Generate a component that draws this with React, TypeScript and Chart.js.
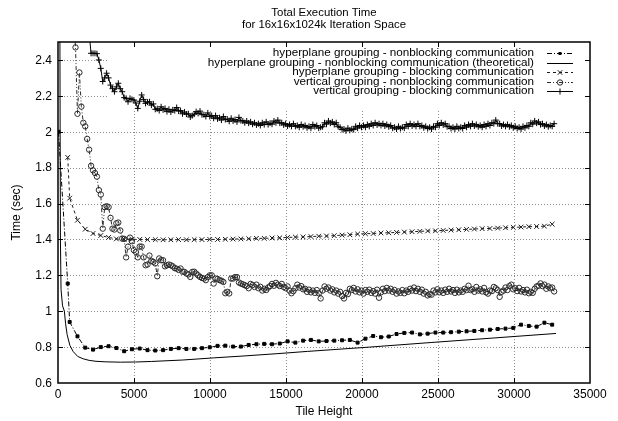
import { useEffect, useRef } from "react";
import { Chart, registerables } from "chart.js";

Chart.register(...registerables);

// ---------- text ----------
const TITLE_LINES = ["Total Execution Time", "for 16x16x1024k Iteration Space"];
const X_LABEL = "Tile Height";
const Y_LABEL = "Time (sec)";
const SERIES_NAMES = [
  "hyperplane grouping - nonblocking communication",
  "hyperplane grouping - nonblocking communication (theoretical)",
  "hyperplane grouping - blocking communication",
  "vertical grouping - nonblocking communication",
  "vertical grouping - blocking communication",
];

// ---------- ticks ----------
const X_TICKS = [0, 5000, 10000, 15000, 20000, 25000, 30000, 35000];
const X_TICK_LABELS = ["0", "5000", "10000", "15000", "20000", "25000", "30000", "35000"];
const Y_TICKS = [0.6, 0.8, 1.0, 1.2, 1.4, 1.6, 1.8, 2.0, 2.2, 2.4];
const Y_TICK_LABELS = ["0.6", "0.8", "1", "1.2", "1.4", "1.6", "1.8", "2", "2.2", "2.4"];

// ---------- data ----------
// tile heights sampled every 512 (hyperplane runs)
const TILE_512 = [
  640, 768, 1280, 1792, 2304, 2816, 3328, 3840, 4352, 4864,
  5376, 5888, 6400, 6912, 7424, 7936, 8448, 8960, 9472, 9984,
  10496, 11008, 11520, 12032, 12544, 13056, 13568, 14080, 14592, 15104,
  15616, 16128, 16640, 17152, 17664, 18176, 18688, 19200, 19712, 20224,
  20736, 21248, 21760, 22272, 22784, 23296, 23808, 24320, 24832, 25344,
  25856, 26368, 26880, 27392, 27904, 28416, 28928, 29440, 29952, 30464,
  30976, 31488, 32000, 32512,
];

// hyperplane grouping - nonblocking (first point at a very small tile height)
const HP_NB_X = [32, ...TILE_512];
const HP_NB_Y = [
  2.0,
  1.154, 0.94, 0.86, 0.797, 0.786, 0.80, 0.805, 0.795, 0.777,
  0.788, 0.792, 0.783, 0.781, 0.783, 0.790, 0.794, 0.790, 0.790, 0.794,
  0.799, 0.807, 0.808, 0.803, 0.803, 0.812, 0.816, 0.818, 0.816, 0.820,
  0.832, 0.825, 0.836, 0.840, 0.832, 0.834, 0.836, 0.838, 0.840, 0.825,
  0.847, 0.862, 0.855, 0.859, 0.873, 0.879, 0.881, 0.871, 0.875, 0.881,
  0.881, 0.883, 0.886, 0.888, 0.890, 0.894, 0.897, 0.901, 0.903, 0.907,
  0.925, 0.918, 0.914, 0.936, 0.925,
];

// hyperplane grouping - nonblocking (theoretical)
const THEO_X = [
  120, 160, 200, 300, 420, 500, 600, 780, 1000, 1300,
  1650, 2050, 2500, 3100, 4100, 5100, 6150, 8200, 10250, 12300,
  14350, 16400, 20500, 24600, 28700, 32768,
];
const THEO_Y = [
  2.7, 1.4, 1.12, 1.03, 1.0, 0.93, 0.87, 0.81, 0.775, 0.748,
  0.735, 0.726, 0.721, 0.718, 0.716, 0.717, 0.72, 0.728, 0.74, 0.751,
  0.763, 0.776, 0.80, 0.826, 0.851, 0.876,
];

// hyperplane grouping - blocking
const HP_B_X = TILE_512;
const HP_B_Y = [
  1.857, 1.63, 1.507, 1.457, 1.433, 1.422, 1.411, 1.403, 1.401, 1.401,
  1.400, 1.399, 1.399, 1.398, 1.398, 1.399, 1.398, 1.399, 1.399, 1.400,
  1.400, 1.401, 1.402, 1.403, 1.404, 1.406, 1.406, 1.408, 1.409, 1.411,
  1.413, 1.414, 1.416, 1.418, 1.419, 1.421, 1.424, 1.426, 1.430, 1.432,
  1.433, 1.436, 1.437, 1.439, 1.441, 1.443, 1.445, 1.447, 1.448, 1.450,
  1.452, 1.454, 1.456, 1.458, 1.460, 1.461, 1.463, 1.465, 1.467, 1.469,
  1.471, 1.472, 1.474, 1.485,
];

// tile heights sampled every 128 (vertical runs)
const TILE_128 = [
  896, 1024, 1152, 1280, 1408, 1536, 1664, 1792, 1920, 2048,
  2176, 2304, 2432, 2560, 2688, 2816, 2944, 3072, 3200, 3328,
  3456, 3584, 3712, 3840, 3968, 4096, 4224, 4352, 4480, 4608,
  4736, 4864, 4992, 5120, 5248, 5376, 5504, 5632, 5760, 5888,
  6016, 6144, 6272, 6400, 6528, 6656, 6784, 6912, 7040, 7168,
  7296, 7424, 7552, 7680, 7808, 7936, 8064, 8192, 8320, 8448,
  8576, 8704, 8832, 8960, 9088, 9216, 9344, 9472, 9600, 9728,
  9856, 9984, 10112, 10240, 10368, 10496, 10624, 10752, 10880, 11008,
  11136, 11264, 11392, 11520, 11648, 11776, 11904, 12032, 12160, 12288,
  12416, 12544, 12672, 12800, 12928, 13056, 13184, 13312, 13440, 13568,
  13696, 13824, 13952, 14080, 14208, 14336, 14464, 14592, 14720, 14848,
  14976, 15104, 15232, 15360, 15488, 15616, 15744, 15872, 16000, 16128,
  16256, 16384, 16512, 16640, 16768, 16896, 17024, 17152, 17280, 17408,
  17536, 17664, 17792, 17920, 18048, 18176, 18304, 18432, 18560, 18688,
  18816, 18944, 19072, 19200, 19328, 19456, 19584, 19712, 19840, 19968,
  20096, 20224, 20352, 20480, 20608, 20736, 20864, 20992, 21120, 21248,
  21376, 21504, 21632, 21760, 21888, 22016, 22144, 22272, 22400, 22528,
  22656, 22784, 22912, 23040, 23168, 23296, 23424, 23552, 23680, 23808,
  23936, 24064, 24192, 24320, 24448, 24576, 24704, 24832, 24960, 25088,
  25216, 25344, 25472, 25600, 25728, 25856, 25984, 26112, 26240, 26368,
  26496, 26624, 26752, 26880, 27008, 27136, 27264, 27392, 27520, 27648,
  27776, 27904, 28032, 28160, 28288, 28416, 28544, 28672, 28800, 28928,
  29056, 29184, 29312, 29440, 29568, 29696, 29824, 29952, 30080, 30208,
  30336, 30464, 30592, 30720, 30848, 30976, 31104, 31232, 31360, 31488,
  31616, 31744, 31872, 32000, 32128, 32256, 32384, 32512, 32640,
];

// vertical grouping - nonblocking
const VG_NB_X = TILE_128;
const VG_NB_Y = [
  2.9, 2.65, 2.47, 2.10, 2.33, 2.14, 2.05, 2.03, 1.96, 1.90,
  1.81, 1.785, 1.77, 1.75, 1.675, 1.65, 1.46, 1.58, 1.585, 1.58,
  1.52, 1.46, 1.455, 1.49, 1.494, 1.45, 1.405, 1.403, 1.30, 1.36,
  1.41, 1.39, 1.34, 1.33, 1.30, 1.36, 1.36, 1.30, 1.256, 1.26,
  1.31, 1.28, 1.275, 1.266, 1.195, 1.294, 1.284, 1.284, 1.25, 1.256,
  1.26, 1.256, 1.25, 1.24, 1.237, 1.23, 1.238, 1.22, 1.219, 1.21,
  1.205, 1.191, 1.219, 1.22, 1.21, 1.20, 1.191, 1.185, 1.182, 1.173,
  1.19, 1.20, 1.20, 1.154, 1.182, 1.18, 1.173, 1.17, 1.163, 1.10,
  1.108, 1.099, 1.182, 1.182, 1.19, 1.19, 1.16, 1.154, 1.15, 1.145,
  1.14, 1.128, 1.152, 1.146, 1.135, 1.148, 1.128, 1.136, 1.115, 1.125,
  1.118, 1.132, 1.14, 1.152, 1.142, 1.158, 1.148, 1.14, 1.152, 1.135,
  1.128, 1.138, 1.115, 1.10, 1.112, 1.128, 1.148, 1.132, 1.14, 1.122,
  1.125, 1.108, 1.12, 1.105, 1.115, 1.102, 1.118, 1.10, 1.071, 1.115,
  1.138, 1.125, 1.132, 1.115, 1.122, 1.105, 1.115, 1.098, 1.108, 1.085,
  1.071, 1.102, 1.095, 1.125, 1.118, 1.13, 1.11, 1.122, 1.105, 1.115,
  1.098, 1.118, 1.108, 1.12, 1.102, 1.112, 1.098, 1.12, 1.075, 1.105,
  1.125, 1.112, 1.13, 1.115, 1.125, 1.108, 1.118, 1.098, 1.11, 1.102,
  1.118, 1.10, 1.115, 1.108, 1.125, 1.115, 1.132, 1.112, 1.125, 1.108,
  1.12, 1.098, 1.108, 1.088, 1.095, 1.092, 1.115, 1.105, 1.122, 1.105,
  1.115, 1.102, 1.12, 1.108, 1.125, 1.11, 1.118, 1.102, 1.12, 1.105,
  1.115, 1.108, 1.125, 1.118, 1.142, 1.118, 1.122, 1.108, 1.135, 1.115,
  1.122, 1.11, 1.13, 1.105, 1.098, 1.115, 1.112, 1.135, 1.128, 1.118,
  1.08, 1.108, 1.115, 1.132, 1.118, 1.14, 1.148, 1.122, 1.128, 1.112,
  1.13, 1.11, 1.118, 1.105, 1.12, 1.10, 1.108, 1.102, 1.125, 1.138,
  1.142, 1.155, 1.14, 1.148, 1.125, 1.138, 1.128, 1.132, 1.11,
];

// vertical grouping - blocking (starts at tile height 1920)
const VG_B_X = TILE_128.slice(8);
const VG_B_Y = [
  2.7, 2.55,
  2.437, 2.437, 2.437, 2.435, 2.40, 2.353, 2.28, 2.30, 2.326, 2.30,
  2.26, 2.24, 2.223, 2.25, 2.27, 2.24, 2.223, 2.19, 2.186, 2.167,
  2.186, 2.18, 2.177, 2.16, 2.13, 2.17, 2.205, 2.18, 2.158, 2.165,
  2.167, 2.148, 2.155, 2.125, 2.128, 2.118, 2.139, 2.122, 2.13, 2.112,
  2.125, 2.11, 2.122, 2.118, 2.135, 2.115, 2.118, 2.10, 2.11, 2.098,
  2.10, 2.082, 2.09, 2.098, 2.112, 2.102, 2.115, 2.095, 2.095, 2.085,
  2.105, 2.085, 2.09, 2.075, 2.09, 2.072, 2.078, 2.065, 2.085, 2.068,
  2.07, 2.058, 2.075, 2.06, 2.068, 2.055, 2.08, 2.062, 2.06, 2.05,
  2.06, 2.048, 2.055, 2.042, 2.05, 2.038, 2.045, 2.035, 2.05, 2.04,
  2.055, 2.04, 2.048, 2.042, 2.06, 2.05, 2.065, 2.048, 2.05, 2.038,
  2.045, 2.032, 2.04, 2.03, 2.045, 2.03, 2.035, 2.025, 2.04, 2.028,
  2.035, 2.022, 2.03, 2.02, 2.04, 2.028, 2.035, 2.02, 2.025, 2.028,
  2.05, 2.042, 2.06, 2.048, 2.055, 2.04, 2.05, 2.028, 2.025, 2.012,
  2.015, 2.005, 2.02, 2.008, 2.015, 2.012, 2.03, 2.02, 2.035, 2.025,
  2.035, 2.025, 2.04, 2.03, 2.045, 2.035, 2.05, 2.038, 2.045, 2.035,
  2.045, 2.032, 2.04, 2.028, 2.035, 2.02, 2.025, 2.015, 2.03, 2.018,
  2.025, 2.02, 2.04, 2.03, 2.045, 2.032, 2.04, 2.03, 2.045, 2.03,
  2.035, 2.022, 2.03, 2.018, 2.025, 2.015, 2.03, 2.025, 2.045, 2.035,
  2.05, 2.038, 2.045, 2.028, 2.03, 2.018, 2.025, 2.015, 2.03, 2.018,
  2.025, 2.018, 2.035, 2.025, 2.04, 2.03, 2.045, 2.032, 2.04, 2.028,
  2.035, 2.025, 2.04, 2.03, 2.045, 2.035, 2.05, 2.045, 2.065, 2.045,
  2.045, 2.032, 2.04, 2.03, 2.04, 2.028, 2.035, 2.022, 2.03, 2.018,
  2.025, 2.015, 2.03, 2.022, 2.035, 2.03, 2.05, 2.042, 2.06, 2.048,
  2.055, 2.04, 2.045, 2.032, 2.04, 2.028, 2.035, 2.03, 2.045,
];

// ---------- styles ----------
const FONT = '"Liberation Sans", Arial, Helvetica, sans-serif';
type Marker = "none" | "rect" | "crossRot" | "circle" | "cross";
const STYLES: { color: string; dash: number[]; marker: Marker; radius: number }[] = [
  { color: "#000", dash: [5, 2, 1, 2], marker: "rect", radius: 2.1 },
  { color: "#000", dash: [], marker: "none", radius: 0 },
  { color: "#1a1a1a", dash: [3, 3], marker: "crossRot", radius: 3.3 },
  { color: "#2a2a2a", dash: [4, 2, 1, 2, 1, 2], marker: "circle", radius: 2.7 },
  { color: "#000", dash: [], marker: "cross", radius: 3.0 },
];

const KEY_LEFT = 107;
const KEY_BOTTOM = 110;

function zip(xs: number[], ys: number[]) {
  const n = Math.min(xs.length, ys.length);
  const out: { x: number; y: number }[] = [];
  for (let i = 0; i < n; i++) out.push({ x: xs[i], y: ys[i] });
  return out;
}

function drawMarker(ctx: CanvasRenderingContext2D, m: Marker, x: number, y: number, r: number, color: string) {
  ctx.save();
  ctx.setLineDash([]);
  ctx.strokeStyle = color;
  ctx.fillStyle = color;
  ctx.lineWidth = 1;
  ctx.beginPath();
  if (m === "rect") {
    const s = r * Math.SQRT1_2;
    ctx.fillRect(x - s, y - s, 2 * s, 2 * s);
  } else if (m === "crossRot") {
    const s = r * Math.SQRT1_2;
    ctx.moveTo(x - s, y - s); ctx.lineTo(x + s, y + s);
    ctx.moveTo(x - s, y + s); ctx.lineTo(x + s, y - s);
    ctx.stroke();
  } else if (m === "circle") {
    ctx.arc(x, y, r, 0, Math.PI * 2);
    ctx.stroke();
  } else if (m === "cross") {
    ctx.moveTo(x - r, y); ctx.lineTo(x + r, y);
    ctx.moveTo(x, y - r); ctx.lineTo(x, y + r);
    ctx.stroke();
  }
  ctx.restore();
}

const gnuplotFrame = {
  id: "gnuplotFrame",
  beforeDatasetsDraw(chart: any) {
    const { ctx, chartArea: a, scales } = chart;
    const xs = scales.x, ys = scales.y;
    ctx.save();
    ctx.strokeStyle = "#8c8c8c";
    ctx.lineWidth = 1;
    ctx.setLineDash([1, 2]);
    ctx.beginPath();
    X_TICKS.forEach((v) => {
      if (v <= xs.min || v >= xs.max) return;
      const p = Math.round(xs.getPixelForValue(v)) + 0.5;
      ctx.moveTo(p, a.top);
      ctx.lineTo(p, a.bottom);
    });
    Y_TICKS.forEach((v) => {
      if (v <= ys.min || v >= ys.max) return;
      const p = Math.round(ys.getPixelForValue(v)) + 0.5;
      ctx.moveTo(a.left, p);
      ctx.lineTo(a.right, p);
    });
    ctx.stroke();
    ctx.setLineDash([]);
    // key area is kept free of grid lines
    ctx.fillStyle = "#fff";
    ctx.fillRect(KEY_LEFT, a.top, a.right - KEY_LEFT, KEY_BOTTOM - a.top);
    ctx.restore();
  },
  afterDatasetsDraw(chart: any) {
    const { ctx, chartArea: a, scales } = chart;
    const xs = scales.x, ys = scales.y;
    ctx.save();
    // border
    ctx.strokeStyle = "#000";
    ctx.lineWidth = 1.5;
    ctx.setLineDash([]);
    ctx.strokeRect(a.left, a.top, a.right - a.left, a.bottom - a.top);
    // inward ticks on all four sides
    ctx.lineWidth = 1;
    ctx.beginPath();
    const T = 5;
    X_TICKS.forEach((v) => {
      if (v <= xs.min || v >= xs.max) return;
      const p = Math.round(xs.getPixelForValue(v)) + 0.5;
      ctx.moveTo(p, a.bottom); ctx.lineTo(p, a.bottom - T);
      ctx.moveTo(p, a.top); ctx.lineTo(p, a.top + T);
    });
    Y_TICKS.forEach((v) => {
      if (v <= ys.min || v >= ys.max) return;
      const p = Math.round(ys.getPixelForValue(v)) + 0.5;
      ctx.moveTo(a.left, p); ctx.lineTo(a.left + T, p);
      ctx.moveTo(a.right, p); ctx.lineTo(a.right - T, p);
    });
    ctx.stroke();

    // tick labels
    ctx.fillStyle = "#000";
    ctx.font = `12px ${FONT}`;
    ctx.textAlign = "right";
    ctx.textBaseline = "middle";
    Y_TICKS.forEach((v, i) => {
      ctx.fillText(Y_TICK_LABELS[i], a.left - 6, ys.getPixelForValue(v) + 0.5);
    });
    ctx.textAlign = "center";
    X_TICKS.forEach((v, i) => {
      ctx.fillText(X_TICK_LABELS[i], xs.getPixelForValue(v), a.bottom + 12);
    });

    // axis titles
    const cx = (a.left + a.right) / 2;
    ctx.fillText(X_LABEL, cx, a.bottom + 29);
    ctx.save();
    ctx.translate(17, (a.top + a.bottom) / 2);
    ctx.rotate(-Math.PI / 2);
    ctx.fillText(Y_LABEL, 0, 0);
    ctx.restore();

    // title
    ctx.font = `11.4px ${FONT}`;
    ctx.fillText(TITLE_LINES[0], cx, 13);
    ctx.fillText(TITLE_LINES[1], cx, 24.5);

    // key
    ctx.font = `11.7px ${FONT}`;
    ctx.textAlign = "right";
    const rows = [53, 62.5, 72, 81.5, 91];
    SERIES_NAMES.forEach((name, i) => {
      const y = rows[i];
      const st = STYLES[i];
      ctx.fillStyle = "#000";
      ctx.fillText(name, 534, y);
      ctx.strokeStyle = st.color;
      ctx.lineWidth = 1;
      ctx.setLineDash(st.dash);
      ctx.beginPath();
      ctx.moveTo(547, Math.round(y) + 0.5);
      ctx.lineTo(573, Math.round(y) + 0.5);
      ctx.stroke();
      ctx.setLineDash([]);
      if (st.marker !== "none") drawMarker(ctx, st.marker, 560, Math.round(y) + 0.5, st.radius, st.color);
    });
    ctx.restore();
  },
};

export default function App() {
  const ref = useRef<HTMLCanvasElement>(null);

  useEffect(() => {
    if (!ref.current) return;
    const series = [
      zip(HP_NB_X, HP_NB_Y),
      zip(THEO_X, THEO_Y),
      zip(HP_B_X, HP_B_Y),
      zip(VG_NB_X, VG_NB_Y),
      zip(VG_B_X, VG_B_Y),
    ];
    const datasets = series.map((data, i) => {
      const st = STYLES[i];
      return {
        label: SERIES_NAMES[i],
        data,
        borderColor: st.color,
        borderWidth: 1,
        borderDash: st.dash,
        pointStyle: st.marker === "none" ? false : st.marker,
        pointRadius: st.radius,
        pointHoverRadius: st.radius,
        pointBorderColor: st.color,
        pointBackgroundColor: st.marker === "rect" ? st.color : "rgba(0,0,0,0)",
        pointBorderWidth: 1,
        fill: false,
        tension: 0,
      };
    });

    const chart = new Chart(ref.current, {
      type: "line",
      data: { datasets } as any,
      options: {
        animation: false,
        responsive: false,
        devicePixelRatio: 1,
        events: [],
        layout: { padding: { top: 42, right: 28, left: 0, bottom: 0 } },
        plugins: {
          legend: { display: false },
          tooltip: { enabled: false },
          title: { display: false },
        },
        scales: {
          x: {
            type: "linear",
            min: 0,
            max: 35000,
            grid: { display: false },
            border: { display: false },
            ticks: { display: false },
            afterBuildTicks: (s: any) => {
              s.ticks = X_TICKS.map((v) => ({ value: v }));
            },
            afterFit: (s: any) => {
              s.height = 38;
            },
          },
          y: {
            type: "linear",
            min: 0.6,
            max: 2.5,
            grid: { display: false },
            border: { display: false },
            ticks: { display: false },
            afterBuildTicks: (s: any) => {
              s.ticks = Y_TICKS.map((v) => ({ value: v }));
            },
            afterFit: (s: any) => {
              s.width = 58;
            },
          },
        },
      } as any,
      plugins: [gnuplotFrame],
    });
    return () => chart.destroy();
  }, []);

  return (
    <div style={{ position: "absolute", left: 0, top: 0, width: 618, height: 421, background: "#fff" }}>
      <canvas ref={ref} width={618} height={421} style={{ display: "block", width: "618px", height: "421px" }} />
    </div>
  );
}
